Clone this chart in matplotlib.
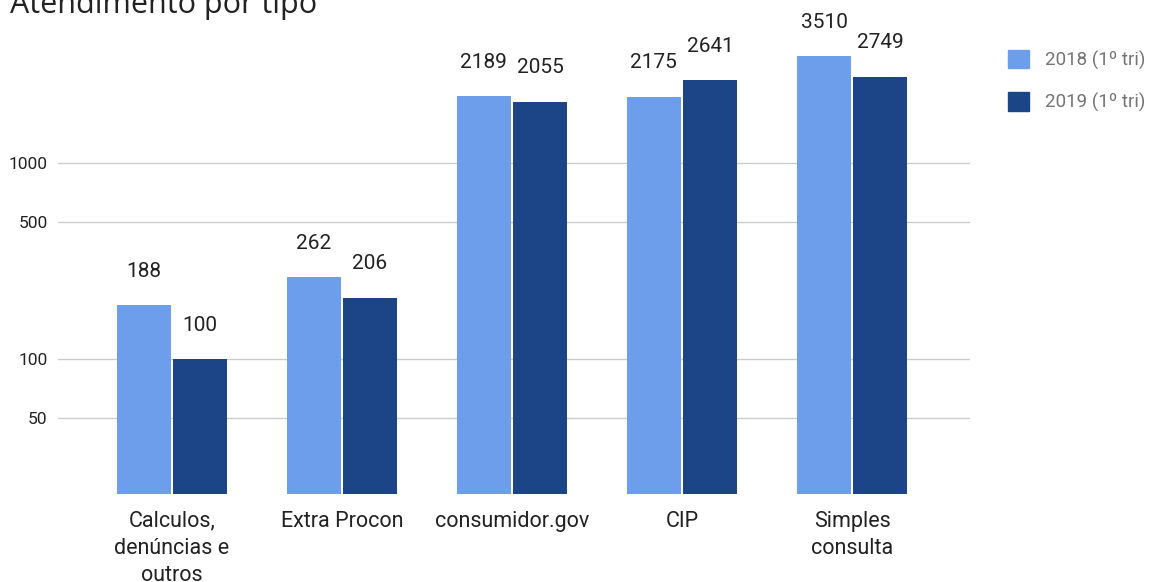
import matplotlib.pyplot as plt
from matplotlib.patches import Patch
import numpy as np

# Dados
categorias = ['Calculos,\ndenúncias e\noutros', 'Extra Procon', 'consumidor.gov', 'CIP', 'Simples\nconsulta']
valores_2018 = [188, 262, 2189, 2175, 3510]
valores_2019 = [100, 206, 2055, 2641, 2749]
series = ['2018 (1º tri)', '2019 (1º tri)']
cores = ['#6d9eeb', '#1c4587']
yticks = [50, 100, 500, 1000]

plt.rcParams['font.family'] = ['Roboto', 'DejaVu Sans']

fig = plt.figure(figsize=(11.49, 5.82), dpi=100)
ax = fig.add_axes([58 / 1149, 88 / 582, 912 / 1149, 468 / 582])

x = np.arange(len(categorias))
largura = 0.318
desloc = 0.165

barras1 = ax.bar(x - desloc, valores_2018, largura, color=cores[0], zorder=3)
barras2 = ax.bar(x + desloc, valores_2019, largura, color=cores[1], zorder=3)

# Rótulos de valor sobre as barras
for barras in (barras1, barras2):
    for b in barras:
        h = b.get_height()
        ax.annotate(f'{h:.0f}', (b.get_x() + b.get_width() / 2, h),
                    xytext=(0, 24.5), textcoords='offset points',
                    ha='center', va='center', fontsize=15, color='#222222')

ax.set_yscale('log')
ax.set_ylim(20.5, 5000)
ax.set_xlim(-0.67, 4.694)
ax.set_yticks(yticks)
ax.set_yticklabels([str(t) for t in yticks])
ax.minorticks_off()
ax.yaxis.grid(True, color='#cccccc', linewidth=1, zorder=0)
ax.tick_params(axis='y', length=0, pad=7.5, labelsize=12.5, labelcolor='#222222')
ax.set_xticks(x)
ax.set_xticklabels(categorias, fontsize=15.5, color='#222222', linespacing=1.38)
ax.tick_params(axis='x', length=0, pad=12)
for s in ax.spines.values():
    s.set_visible(False)

# Título (cortado no topo como no original)
fig.text(10 / 1149, 1 - 13 / 582, 'Atendimento por tipo', fontsize=22,
         family=['Open Sans', 'DejaVu Sans'], color='#222222', va='baseline')

# Legenda
handles = [Patch(color=c, label=s) for c, s in zip(cores, series)]
leg = fig.legend(handles=handles, loc='upper left',
                 bbox_to_anchor=(1000 / 1149, 1 - 42 / 582),
                 frameon=False, fontsize=13.5, handlelength=1.17, handleheight=1.17,
                 handletextpad=0.83, labelspacing=1.2, borderaxespad=0)
for t in leg.get_texts():
    t.set_color('#757575')

fig.savefig('out.png', dpi=100)
